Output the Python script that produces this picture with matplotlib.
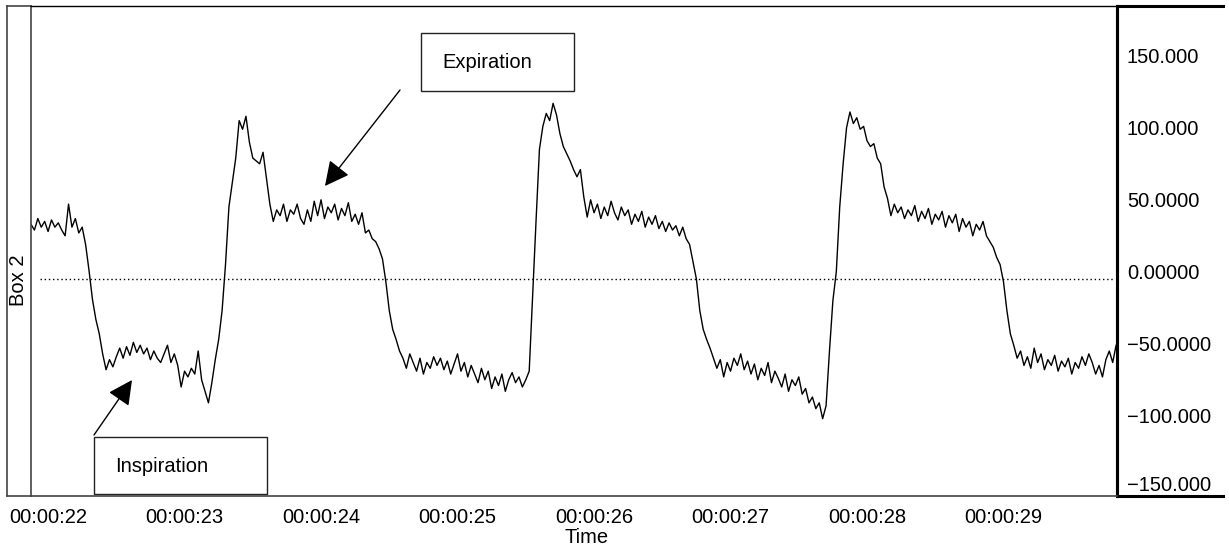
import numpy as np
import matplotlib.pyplot as plt
from matplotlib.patches import Rectangle

plt.rcParams['font.family'] = ['Liberation Sans', 'DejaVu Sans']

# Abtastung des Signals (Sekunden)
start_time = 21.875
sample_step = 0.025

# Signalwerte, je 40 Abtastwerte (eine Sekunde)
sec_22 = [38, 34, 42, 36, 40, 33, 41, 36, 39, 34,
          30, 52, 36, 42, 32, 36, 24, 6, -14, -28,
          -38, -52, -63, -56, -61, -54, -48, -55, -47, -53,
          -44, -51, -46, -52, -48, -56, -50, -55, -58, -52]
sec_23 = [-46, -58, -52, -60, -75, -64, -68, -62, -66, -50,
          -70, -78, -86, -72, -56, -42, -22, 10, 50, 67,
          84, 110, 104, 113, 95, 84, 82, 80, 88, 70,
          52, 40, 48, 44, 52, 40, 48, 45, 52, 42]
sec_24 = [38, 48, 40, 54, 44, 55, 42, 50, 46, 52,
          41, 49, 44, 53, 40, 45, 38, 46, 32, 34,
          28, 26, 21, 14, -2, -22, -35, -42, -50, -55,
          -62, -52, -58, -64, -55, -66, -58, -62, -54, -60]
sec_25 = [-55, -63, -57, -66, -59, -52, -64, -58, -68, -60,
          -66, -72, -62, -70, -64, -76, -68, -74, -66, -78,
          -70, -65, -72, -68, -75, -70, -64, -12, 40, 90,
          106, 115, 110, 122, 114, 101, 92, 87, 82, 76]
sec_26 = [71, 76, 57, 43, 55, 46, 52, 42, 50, 44,
          54, 46, 41, 50, 44, 48, 38, 45, 40, 47,
          36, 43, 38, 44, 35, 40, 33, 39, 34, 37,
          30, 36, 28, 24, 12, 0, -22, -35, -42, -48]
sec_27 = [-55, -62, -56, -68, -58, -64, -55, -60, -52, -63,
          -57, -66, -59, -70, -62, -67, -58, -72, -64, -69,
          -75, -66, -78, -70, -74, -68, -80, -76, -86, -82,
          -90, -86, -97, -88, -50, -15, 5, 50, 80, 105]
sec_28 = [116, 108, 112, 104, 106, 96, 92, 94, 84, 80,
          64, 56, 44, 52, 46, 50, 42, 48, 44, 51,
          40, 47, 42, 49, 38, 45, 41, 47, 36, 44,
          39, 45, 33, 42, 36, 40, 30, 38, 34, 40]
sec_29 = [30, 26, 22, 15, 10, -2, -22, -38, -46, -55,
          -50, -60, -54, -62, -48, -58, -52, -63, -56, -60,
          -53, -64, -57, -61, -55, -66, -58, -62, -54, -60,
          -52, -58, -66, -60, -68, -56, -50, -58, -46]

tick_seconds = [22, 23, 24, 25, 26, 27, 28, 29]
tick_labels = ['00:00:22', '00:00:23', '00:00:24', '00:00:25',
               '00:00:26', '00:00:27', '00:00:28', '00:00:29']
value_ticks = [150, 100, 50, 0, -50, -100, -150]
value_labels = ['150.000', '100.000', '50.0000', '0.00000',
                '\u221250.0000', '\u2212100.000', '\u2212150.000']

signal = np.array(sec_22 + sec_23 + sec_24 + sec_25 + sec_26 + sec_27 + sec_28 + sec_29)
time = start_time + sample_step * np.arange(len(signal))

W, H = 1229, 550
fig = plt.figure(figsize=(W / 100, H / 100), dpi=100)


def px_axes(x0, y0, x1, y1):
    return fig.add_axes([x0 / W, 1 - y1 / H, (x1 - x0) / W, (y1 - y0) / H])


# linker Streifen mit "Box 2"
strip = px_axes(7, 6, 31, 496)
strip.set_xticks([])
strip.set_yticks([])
strip.spines['right'].set_visible(False)
for s in ['left', 'top', 'bottom']:
    strip.spines[s].set_color('#444444')
    strip.spines[s].set_linewidth(1.2)
strip.text(0.5, 0.441, 'Box 2', rotation=90, ha='center', va='center', fontsize=14.5)

# rechter Bereich der Skala
scale = px_axes(1117, 6, 1223, 496)
scale.set_facecolor('none')
scale.set_xticks([])
scale.set_yticks([])
scale.spines['right'].set_visible(False)
for s in ['left', 'top', 'bottom']:
    scale.spines[s].set_linewidth(2.2)
    scale.spines[s].set_color('black')

# Hauptdiagramm
ax = px_axes(31, 6, 1117, 496)
ax.set_facecolor('none')
ax.plot(time, signal, color='black', lw=1.0)
ax.axhline(0, xmin=0.008, xmax=0.996, color='black', lw=1.0, linestyle=(0, (1, 2)))

ax.set_xlim(21.875, 29.8315)
ax.set_ylim(-150.7, 189.6)
ax.set_xticks(tick_seconds, tick_labels)
ax.tick_params(axis='x', length=0, pad=8.5, labelsize=14.5)
ax.yaxis.tick_right()
ax.set_yticks(value_ticks, value_labels)
ax.tick_params(axis='y', length=0, pad=7.2, labelsize=14.5)
ylabs = ax.get_yticklabels()
for lab in ylabs:
    lab.set_verticalalignment('baseline')
ylabs[-1].set_verticalalignment('bottom')

ax.spines['left'].set_color('#444444')
ax.spines['left'].set_linewidth(1.2)
ax.spines['bottom'].set_color('#444444')
ax.spines['bottom'].set_linewidth(1.2)
ax.spines['top'].set_linewidth(1.0)
ax.spines['right'].set_linewidth(2.2)

# Beschriftungen Expiration / Inspiration
arrow = dict(arrowstyle='-|>,head_length=0.75,head_width=0.38', mutation_scale=20,
             color='black', lw=1.0, shrinkA=0, shrinkB=0)

ax.add_patch(Rectangle((0.3591, 0.8265), 0.1409, 0.1184, transform=ax.transAxes,
                       fill=False, lw=1.0, ec='#222222'))
ax.text(0.3785, 0.8857, 'Expiration', transform=ax.transAxes, va='center', fontsize=14.5)
ax.annotate('', xy=(0.2707, 0.6327), xytext=(0.3398, 0.8286),
            xycoords='axes fraction', textcoords='axes fraction', arrowprops=arrow)

ax.add_patch(Rectangle((0.0580, 0.0041), 0.1593, 0.1163, transform=ax.transAxes,
                       fill=False, lw=1.0, ec='#222222'))
ax.text(0.0773, 0.0612, 'Inspiration', transform=ax.transAxes, va='center', fontsize=14.5)
ax.annotate('', xy=(0.0930, 0.2367), xytext=(0.0580, 0.1245),
            xycoords='axes fraction', textcoords='axes fraction', arrowprops=arrow)

fig.text(587 / W, 1 - 543 / H, 'Time', ha='center', va='baseline', fontsize=14.5)

plt.savefig('out.png', dpi=100)
